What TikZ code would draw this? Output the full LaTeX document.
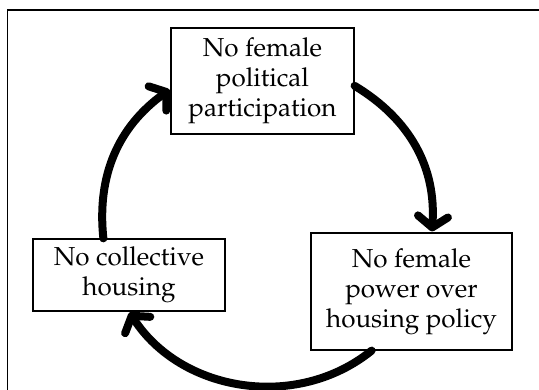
\documentclass[tikz,border=0pt]{standalone}
\usepackage[T1]{fontenc}
\usepackage{mathpazo}
\usepackage{tikz}
\usetikzlibrary{arrows.meta}
\tikzset{
    boxstyle/.style={draw, line width=1.2pt, fill=white, align=center, inner sep=0pt, font=\fontsize{26}{30}\selectfont},
    cyclearrow/.style={line width=8pt, line cap=round, -{Straight Barb[length=11pt, width=30pt, round]}, shorten >=1pt},
    framestyle/.style={line width=1.5pt}
}

\begin{document}
\begin{tikzpicture}[x=1pt, y=1pt]

        \useasboundingbox (0,0) rectangle (539,390);

        % --- Frame ---
        \draw[framestyle] (7.5,0) |- (539,380);

        % ================= BOXES =================
        \node[boxstyle, minimum width=183pt, minimum height=106pt] (top) at (262.5,309) {No female\\political\\participation};
        \node[boxstyle, minimum width=201pt, minimum height=117pt] (right) at (411.5,98.5) {No female\\power over\\housing policy};
        \node[boxstyle, minimum width=192pt, minimum height=72pt] (left) at (129,115) {No collective\\housing};

        % ================= CYCLE =================
        \draw[cyclearrow] (top.-3) to[out=-31, in=86] (right.71);
        \draw[cyclearrow] (right.-124) to[out=-141, in=-57] (left.south);
        \draw[cyclearrow] (left.125) to[out=96, in=-144] (top.185);

\end{tikzpicture}
\end{document}
